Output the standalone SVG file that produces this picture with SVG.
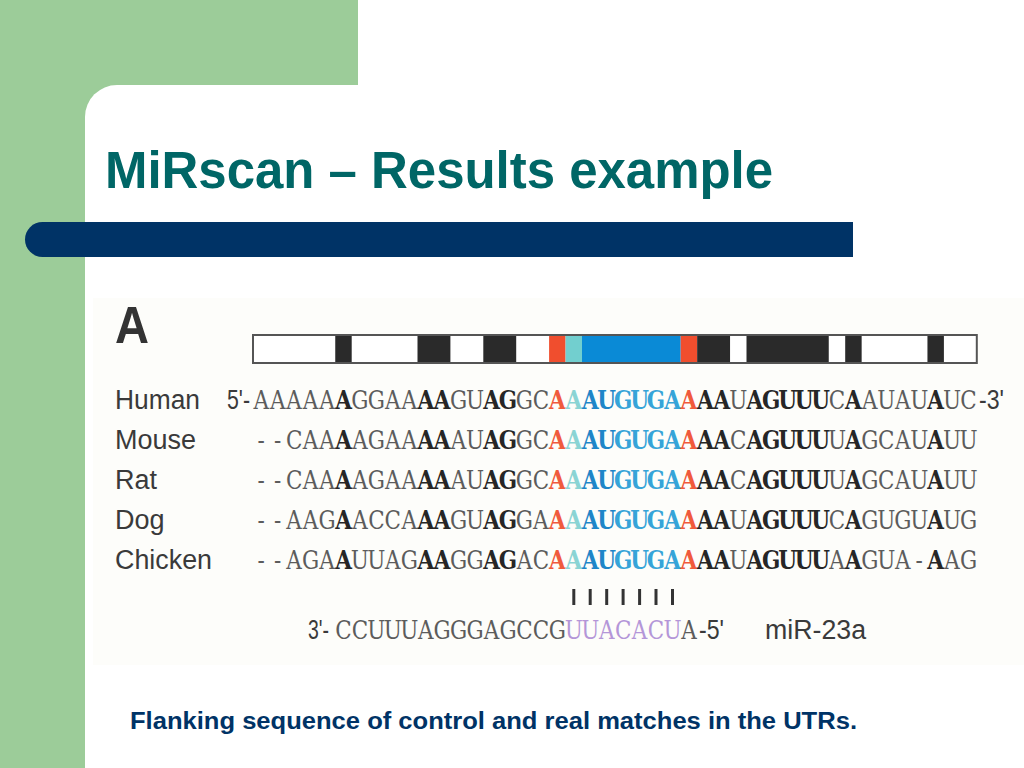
<svg xmlns="http://www.w3.org/2000/svg" width="1024" height="768" viewBox="0 0 1024 768">
<style>
.lbl{font-family:"Liberation Sans",Arial,sans-serif;font-size:27px;fill:#3a3a3a}
.seq{font-family:"DejaVu Serif","Liberation Serif",serif;font-size:21.5px;fill:#5c5c5c;text-anchor:middle}
.b{font-weight:bold;fill:#262626}
.r{font-weight:bold;fill:#f05a3c}
.t{font-weight:bold;fill:#8ad4d4}
.u1{font-weight:bold;fill:#1f86c8}
.u2{font-weight:bold;fill:#36a4d8}
.p{fill:#b496d8}
.blk{fill:#2a2a2a}
.pair{stroke:#333;stroke-width:3}
</style>
<rect width="1024" height="768" fill="#ffffff"/>
<g id="background">
<rect x="0" y="0" width="358" height="130" fill="#9ccc99"/>
<rect x="0" y="0" width="85" height="768" fill="#9ccc99"/>
<rect x="85" y="85" width="1100" height="1000" rx="32" fill="#ffffff"/>
<path d="M853,222 H42.5 A17.5,17.5 0 0 0 42.5,257 H853 Z" fill="#003366"/>
</g>
<g id="title"><text x="105" y="188" font-family="'Liberation Sans',Arial,sans-serif" font-weight="bold" font-size="51" fill="#006666" textLength="668" lengthAdjust="spacingAndGlyphs">MiRscan – Results example</text></g>
<g id="figure">
<rect x="93" y="298" width="931" height="367" fill="#fdfdfa"/>
<text x="115" y="343" font-family="'Liberation Sans',Arial,sans-serif" font-weight="bold" font-size="52" fill="#333" textLength="34" lengthAdjust="spacingAndGlyphs">A</text>
<g id="bar">
<rect x="253" y="335" width="723.8" height="28" fill="#ffffff" stroke="#555" stroke-width="2"/>
<rect class="blk" x="335.25" y="336" width="16.45" height="26"/>
<rect class="blk" x="417.5" y="336" width="32.9" height="26"/>
<rect class="blk" x="483.3" y="336" width="32.9" height="26"/>
<rect x="549.1" y="336" width="16.45" height="26" fill="#f04e2e"/>
<rect x="565.55" y="336" width="16.45" height="26" fill="#72cfcf"/>
<rect x="582" y="336" width="98.7" height="26" fill="#0a8ad6"/>
<rect x="680.7" y="336" width="16.45" height="26" fill="#f04e2e"/>
<rect class="blk" x="697.15" y="336" width="32.9" height="26"/>
<rect class="blk" x="746.5" y="336" width="82.25" height="26"/>
<rect class="blk" x="845.2" y="336" width="16.45" height="26"/>
<rect class="blk" x="927.45" y="336" width="16.45" height="26"/>
</g>
<g id="labels" class="lbl">
<text x="115" y="409" textLength="85" lengthAdjust="spacingAndGlyphs">Human</text>
<text x="115" y="449">Mouse</text>
<text x="115" y="489">Rat</text>
<text x="115" y="529">Dog</text>
<text x="115" y="569" textLength="97" lengthAdjust="spacingAndGlyphs">Chicken</text>
</g>
<g id="human">
<text class="lbl" x="250" y="409" text-anchor="end" textLength="23" lengthAdjust="spacingAndGlyphs">5'-</text>
<text class="seq" transform="translate(0,409) scale(1,1.25)" y="0"><tspan x="261.23 277.68 294.13 310.58 327.03">AAAAA</tspan><tspan class="b" x="343.48">A</tspan><tspan x="359.93 376.38 392.83 409.28">GGAA</tspan><tspan class="b" x="425.73 442.18">AA</tspan><tspan x="458.63 475.08">GU</tspan><tspan class="b" x="491.53 507.98">AG</tspan><tspan x="524.43 540.88">GC</tspan><tspan class="r" x="557.33">A</tspan><tspan class="t" x="573.78">A</tspan><tspan class="u1" x="590.23 606.68">AU</tspan><tspan class="u2" x="623.13 639.58 656.03 672.48">GUGA</tspan><tspan class="r" x="688.93">A</tspan><tspan class="b" x="705.38 721.83">AA</tspan><tspan x="738.28">U</tspan><tspan class="b" x="754.73 771.18 787.63 804.08 820.53">AGUUU</tspan><tspan x="836.98">C</tspan><tspan class="b" x="853.43">A</tspan><tspan x="869.88 886.33 902.78 919.23">AUAU</tspan><tspan class="b" x="935.68">A</tspan><tspan x="952.13 968.58">UC</tspan></text>
<text class="lbl" x="979" y="409" textLength="25" lengthAdjust="spacingAndGlyphs">-3'</text>
</g>
<g id="mouse">
<text class="seq" transform="translate(0,449) scale(1,1.25)" y="0"><tspan x="261.23 277.68 294.13 310.58 327.03">--CAA</tspan><tspan class="b" x="343.48">A</tspan><tspan x="359.93 376.38 392.83 409.28">AGAA</tspan><tspan class="b" x="425.73 442.18">AA</tspan><tspan x="458.63 475.08">AU</tspan><tspan class="b" x="491.53 507.98">AG</tspan><tspan x="524.43 540.88">GC</tspan><tspan class="r" x="557.33">A</tspan><tspan class="t" x="573.78">A</tspan><tspan class="u1" x="590.23 606.68">AU</tspan><tspan class="u2" x="623.13 639.58 656.03 672.48">GUGA</tspan><tspan class="r" x="688.93">A</tspan><tspan class="b" x="705.38 721.83">AA</tspan><tspan x="738.28">C</tspan><tspan class="b" x="754.73 771.18 787.63 804.08 820.53">AGUUU</tspan><tspan x="836.98">U</tspan><tspan class="b" x="853.43">A</tspan><tspan x="869.88 886.33 902.78 919.23">GCAU</tspan><tspan class="b" x="935.68">A</tspan><tspan x="952.13 968.58">UU</tspan></text>
</g>
<g id="rat">
<text class="seq" transform="translate(0,489) scale(1,1.25)" y="0"><tspan x="261.23 277.68 294.13 310.58 327.03">--CAA</tspan><tspan class="b" x="343.48">A</tspan><tspan x="359.93 376.38 392.83 409.28">AGAA</tspan><tspan class="b" x="425.73 442.18">AA</tspan><tspan x="458.63 475.08">AU</tspan><tspan class="b" x="491.53 507.98">AG</tspan><tspan x="524.43 540.88">GC</tspan><tspan class="r" x="557.33">A</tspan><tspan class="t" x="573.78">A</tspan><tspan class="u1" x="590.23 606.68">AU</tspan><tspan class="u2" x="623.13 639.58 656.03 672.48">GUGA</tspan><tspan class="r" x="688.93">A</tspan><tspan class="b" x="705.38 721.83">AA</tspan><tspan x="738.28">C</tspan><tspan class="b" x="754.73 771.18 787.63 804.08 820.53">AGUUU</tspan><tspan x="836.98">U</tspan><tspan class="b" x="853.43">A</tspan><tspan x="869.88 886.33 902.78 919.23">GCAU</tspan><tspan class="b" x="935.68">A</tspan><tspan x="952.13 968.58">UU</tspan></text>
</g>
<g id="dog">
<text class="seq" transform="translate(0,529) scale(1,1.25)" y="0"><tspan x="261.23 277.68 294.13 310.58 327.03">--AAG</tspan><tspan class="b" x="343.48">A</tspan><tspan x="359.93 376.38 392.83 409.28">ACCA</tspan><tspan class="b" x="425.73 442.18">AA</tspan><tspan x="458.63 475.08">GU</tspan><tspan class="b" x="491.53 507.98">AG</tspan><tspan x="524.43 540.88">GA</tspan><tspan class="r" x="557.33">A</tspan><tspan class="t" x="573.78">A</tspan><tspan class="u1" x="590.23 606.68">AU</tspan><tspan class="u2" x="623.13 639.58 656.03 672.48">GUGA</tspan><tspan class="r" x="688.93">A</tspan><tspan class="b" x="705.38 721.83">AA</tspan><tspan x="738.28">U</tspan><tspan class="b" x="754.73 771.18 787.63 804.08 820.53">AGUUU</tspan><tspan x="836.98">C</tspan><tspan class="b" x="853.43">A</tspan><tspan x="869.88 886.33 902.78 919.23">GUGU</tspan><tspan class="b" x="935.68">A</tspan><tspan x="952.13 968.58">UG</tspan></text>
</g>
<g id="chicken">
<text class="seq" transform="translate(0,569) scale(1,1.25)" y="0"><tspan x="261.23 277.68 294.13 310.58 327.03">--AGA</tspan><tspan class="b" x="343.48">A</tspan><tspan x="359.93 376.38 392.83 409.28">UUAG</tspan><tspan class="b" x="425.73 442.18">AA</tspan><tspan x="458.63 475.08">GG</tspan><tspan class="b" x="491.53 507.98">AG</tspan><tspan x="524.43 540.88">AC</tspan><tspan class="r" x="557.33">A</tspan><tspan class="t" x="573.78">A</tspan><tspan class="u1" x="590.23 606.68">AU</tspan><tspan class="u2" x="623.13 639.58 656.03 672.48">GUGA</tspan><tspan class="r" x="688.93">A</tspan><tspan class="b" x="705.38 721.83">AA</tspan><tspan x="738.28">U</tspan><tspan class="b" x="754.73 771.18 787.63 804.08 820.53">AGUUU</tspan><tspan x="836.98">A</tspan><tspan class="b" x="853.43">A</tspan><tspan x="869.88 886.33 902.78 919.23">GUA-</tspan><tspan class="b" x="935.68">A</tspan><tspan x="952.13 968.58">AG</tspan></text>
</g>
<g id="pairing">
<line class="pair" x1="573.8" y1="589" x2="573.8" y2="605"/>
<line class="pair" x1="590.2" y1="589" x2="590.2" y2="605"/>
<line class="pair" x1="606.7" y1="589" x2="606.7" y2="605"/>
<line class="pair" x1="623.1" y1="589" x2="623.1" y2="605"/>
<line class="pair" x1="639.6" y1="589" x2="639.6" y2="605"/>
<line class="pair" x1="656.0" y1="589" x2="656.0" y2="605"/>
<line class="pair" x1="672.5" y1="589" x2="672.5" y2="605"/>
</g>
<g id="mirna">
<text class="lbl" x="329" y="639" text-anchor="end" textLength="21" lengthAdjust="spacingAndGlyphs">3'-</text>
<text class="seq" transform="translate(0,639) scale(1,1.25)" y="0"><tspan x="343.48 359.93 376.38 392.83 409.28 425.73 442.18 458.63 475.08 491.53 507.98 524.43 540.88 557.33">CCUUUAGGGAGCCG</tspan><tspan class="p" x="573.78 590.23 606.68 623.13 639.58 656.03 672.48">UUACACU</tspan><tspan x="688.93">A</tspan></text>
<text class="lbl" x="699" y="639" textLength="25" lengthAdjust="spacingAndGlyphs">-5'</text>
<text class="lbl" x="765" y="639" textLength="101" lengthAdjust="spacingAndGlyphs">miR-23a</text>
</g>
</g>
<g id="caption"><text x="130" y="729" font-family="'Liberation Sans',Arial,sans-serif" font-weight="bold" font-size="23" fill="#003366" textLength="727" lengthAdjust="spacingAndGlyphs">Flanking sequence of control and real matches in the UTRs.</text></g>
</svg>
